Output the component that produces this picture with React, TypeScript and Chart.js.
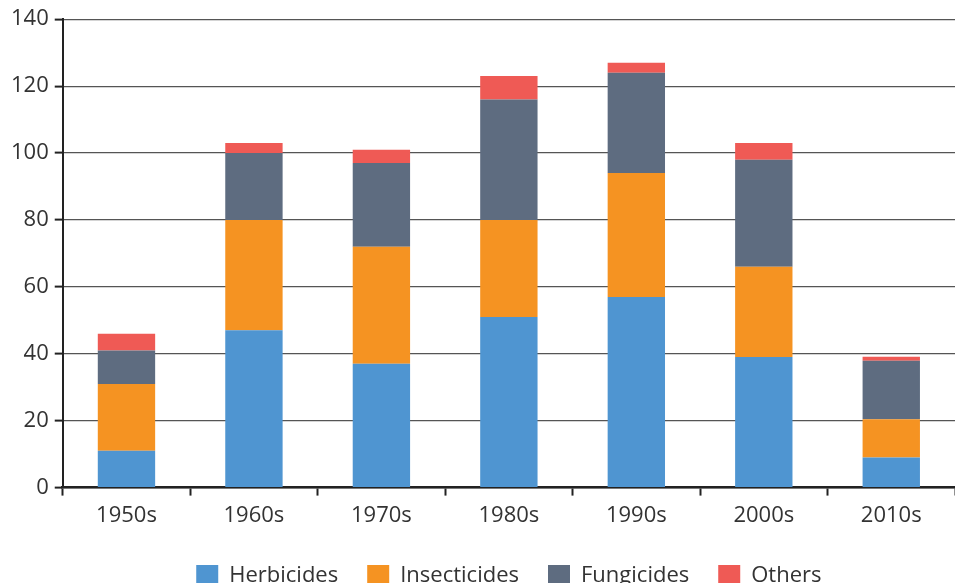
import { useEffect, useRef } from "react"
import { Chart, registerables } from "chart.js"

Chart.register(...registerables)

const decades = ["1950s", "1960s", "1970s", "1980s", "1990s", "2000s", "2010s"]
const herbicides = [11, 47, 37, 51, 57, 39, 9]
const insecticides = [20, 33, 35, 29, 37, 27, 11.4]
const fungicides = [10, 20, 25, 36, 30, 32, 17.5]
const others = [5, 3, 4, 7, 3, 5, 1.2]
const yTicks = [0, 20, 40, 60, 80, 100, 120, 140]

const FONT = "'Open Sans', sans-serif"

// centre the legend under the plot area rather than the whole canvas
const legendUnderPlot = {
  id: "legendUnderPlot",
  afterLayout(chart: Chart) {
    const lg: any = chart.legend
    if (!lg) return
    lg.left = chart.chartArea.left
    lg.right = chart.chartArea.right
  },
}

export default function App() {
  const chartRef = useRef<HTMLCanvasElement>(null)
  const chartInstance = useRef<Chart | null>(null)

  useEffect(() => {
    if (!chartRef.current) return
    if (chartInstance.current) chartInstance.current.destroy()

    chartInstance.current = new Chart(chartRef.current, {
      type: "bar",
      data: {
        labels: decades,
        datasets: [
          { label: "Herbicides", data: herbicides, backgroundColor: "#4f95d1" },
          { label: "Insecticides", data: insecticides, backgroundColor: "#f59322" },
          { label: "Fungicides", data: fungicides, backgroundColor: "#5e6c80" },
          { label: "Others", data: others, backgroundColor: "#ef5a55" },
        ],
      },
      options: {
        responsive: true,
        maintainAspectRatio: false,
        animation: false,
        layout: { padding: { top: 12, left: 5, right: 0, bottom: 0 } },
        datasets: { bar: { barPercentage: 0.9, categoryPercentage: 0.5 } },
        scales: {
          x: {
            stacked: true,
            border: { color: "#222", width: 2.5 },
            grid: {
              drawOnChartArea: false,
              drawTicks: true,
              tickLength: 8,
              tickColor: "#222",
              tickWidth: 2,
            },
            ticks: { color: "#333", font: { family: FONT, size: 22 }, padding: 7 },
          },
          y: {
            stacked: true,
            min: 0,
            max: 140,
            afterBuildTicks: (axis) => {
              axis.ticks = yTicks.map((v) => ({ value: v }))
            },
            border: { color: "#222", width: 2 },
            grid: {
              color: "#555",
              lineWidth: 1.2,
              tickLength: 8,
              tickColor: "#222",
              tickWidth: 2,
            },
            ticks: { color: "#333", font: { family: FONT, size: 22 }, padding: 6 },
          },
        },
        plugins: {
          legend: {
            position: "bottom",
            labels: {
              color: "#333",
              font: { family: FONT, size: 22 },
              boxWidth: 22,
              boxHeight: 22,
              padding: 29,
            },
          },
          tooltip: { enabled: false },
        },
      },
      plugins: [legendUnderPlot],
    })

    return () => {
      if (chartInstance.current) {
        chartInstance.current.destroy()
        chartInstance.current = null
      }
    }
  }, [])

  return (
    <div style={{ position: "fixed", left: 0, top: 0, width: 955, height: 597, background: "#fff" }}>
      <canvas ref={chartRef}></canvas>
    </div>
  )
}
